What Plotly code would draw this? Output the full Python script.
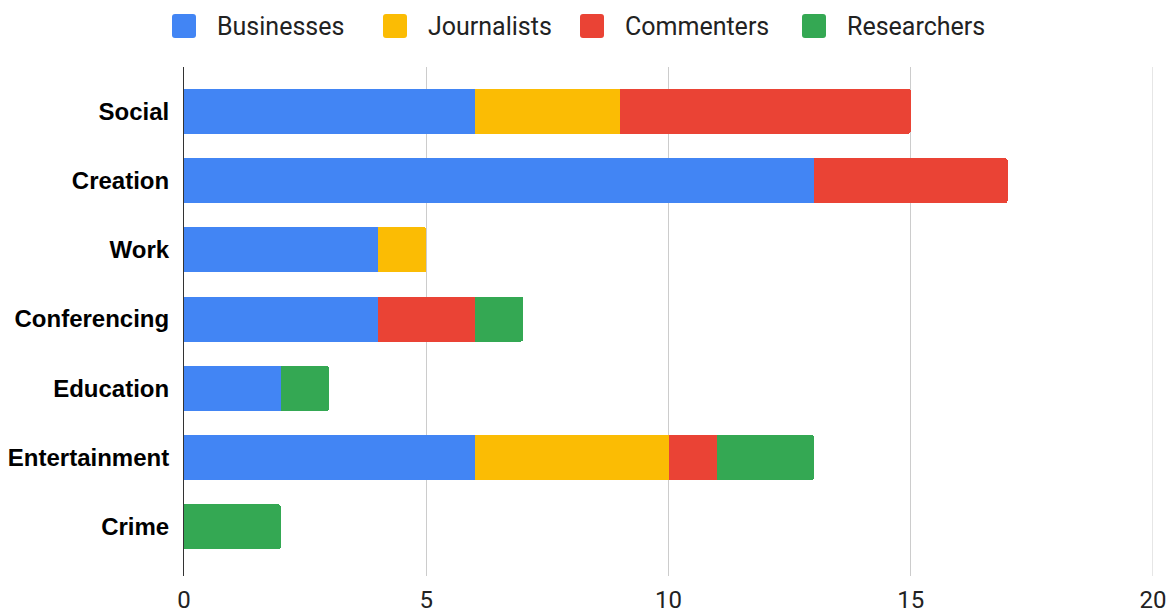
import plotly.graph_objects as go

categories = ["Social", "Creation", "Work", "Conferencing", "Education", "Entertainment", "Crime"]
businesses = [6, 13, 4, 4, 2, 6, 0]
journalists = [3, 0, 1, 0, 0, 4, 0]
commenters = [6, 4, 0, 2, 0, 1, 0]
researchers = [0, 0, 0, 1, 1, 2, 2]
tick_vals = [0, 5, 10, 15, 20]

series_names = ["Businesses", "Journalists", "Commenters", "Researchers"]
series_values = [businesses, journalists, commenters, researchers]
series_colors = ["#4285F4", "#FBBC04", "#EA4335", "#34A853"]

W, H = 1169, 613
ML, MR, MT, MB = 184, 16, 67, 37
PW, PH = W - ML - MR, H - MT - MB

fig = go.Figure()
for name, vals, color in zip(series_names, series_values, series_colors):
    fig.add_trace(go.Bar(
        y=categories, x=vals, name=name, orientation="h",
        marker=dict(color=color, line=dict(width=0)),
        hoverinfo="x+name", showlegend=False,
    ))

# custom legend (layout decoration), positioned in pixels -> paper coords
legend_swatch_left = [172, 383, 580, 802]
legend_cy = 26
SW = 24
R = 3

def px_x(p):
    return (p - ML) / PW

def px_y(p):
    return (H - MB - p) / PH

def rounded_rect(x0, y0, x1, y1, r):
    pts = [
        (x0 + r, y0), (x1 - r, y0), ("Q", x1, y0, x1, y0 + r),
        (x1, y1 - r), ("Q", x1, y1, x1 - r, y1),
        (x0 + r, y1), ("Q", x0, y1, x0, y1 - r),
        (x0, y0 + r), ("Q", x0, y0, x0 + r, y0),
    ]
    s = "M {} {}".format(px_x(pts[0][0]), px_y(pts[0][1]))
    for p in pts[1:]:
        if p[0] == "Q":
            s += " Q {} {} {} {}".format(px_x(p[1]), px_y(p[2]), px_x(p[3]), px_y(p[4]))
        else:
            s += " L {} {}".format(px_x(p[0]), px_y(p[1]))
    return s + " Z"

shapes = []
annotations = []
for left, name, color in zip(legend_swatch_left, series_names, series_colors):
    shapes.append(dict(
        type="path", xref="paper", yref="paper",
        path=rounded_rect(left, legend_cy - SW / 2, left + SW, legend_cy + SW / 2, R),
        fillcolor=color, line=dict(width=0), layer="above",
    ))
    annotations.append(dict(
        xref="paper", yref="paper", x=px_x(left + 43), y=px_y(legend_cy),
        xanchor="left", yanchor="middle", showarrow=False, text=name,
        font=dict(family="Roboto, Arial, sans-serif", size=25, color="#222222"),
    ))

# gridline at the right edge of the range (plotly omits it at the boundary)
shapes.append(dict(
    type="line", xref="x", yref="paper", x0=tick_vals[-1], x1=tick_vals[-1], y0=0, y1=1,
    line=dict(color="#cccccc", width=1), layer="below",
))

fig.update_layout(
    barmode="stack",
    bargap=0.35,
    width=W, height=H,
    margin=dict(l=ML, r=MR, t=MT, b=MB),
    plot_bgcolor="white", paper_bgcolor="white",
    font=dict(family="Roboto, Arial, sans-serif", color="#222222", size=16),
    showlegend=False,
    shapes=shapes,
    annotations=annotations,
    xaxis=dict(
        range=[0, 20], tickvals=tick_vals, showgrid=True,
        gridcolor="#cccccc", gridwidth=1, zeroline=False,
        ticks="", tickfont=dict(size=24, color="#222222"),
        ticklabelstandoff=7,
        showline=False, automargin=False,
    ),
    yaxis=dict(
        categoryorder="array", categoryarray=categories,
        range=[6.71, -0.64], showgrid=False, zeroline=False,
        ticks="", ticklabelstandoff=9, automargin=False,
        tickfont=dict(family="Liberation Sans, Arial, sans-serif", size=24, color="#000000", weight="bold"),
        showline=True, linecolor="#333333", linewidth=1,
    ),
    barcornerradius=3,
)

fig.write_html("out.html")
